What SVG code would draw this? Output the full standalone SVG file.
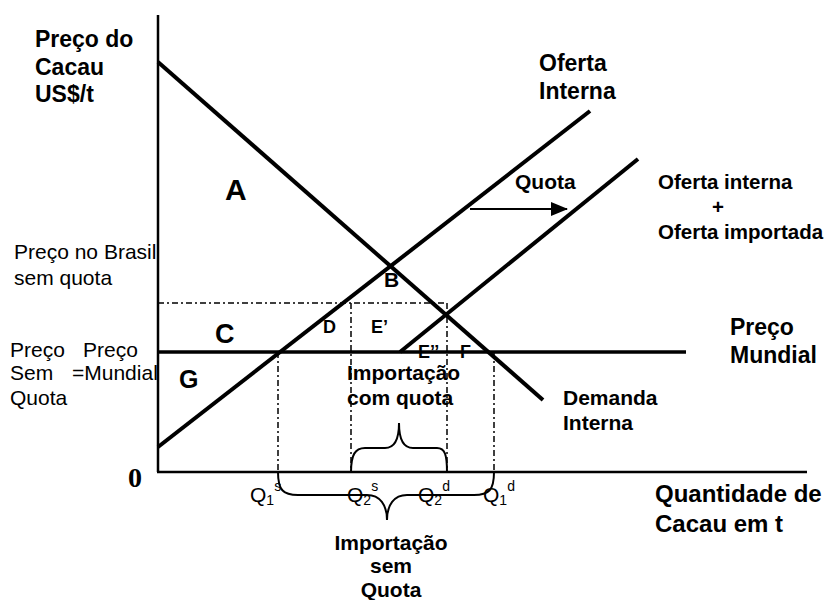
<svg xmlns="http://www.w3.org/2000/svg" width="832" height="600" viewBox="0 0 832 600">
<defs>
<style>
.b{font-family:"Liberation Sans",Arial,sans-serif;font-weight:bold;fill:#000}
.r{font-family:"Liberation Sans",Arial,sans-serif;fill:#000}
.curve{stroke:#000;stroke-width:4;fill:none;stroke-linecap:butt}
.axis{stroke:#000;stroke-width:2.5;fill:none}
.dd{stroke:#000;stroke-width:1.5;fill:none;stroke-dasharray:6 3 2 3}
.brace{stroke:#000;stroke-width:2;fill:none}
</style>
<marker id="ah" markerWidth="17" markerHeight="14" refX="16" refY="7" orient="auto" markerUnits="userSpaceOnUse" viewBox="0 0 17 14">
<path d="M0,0 L17,7 L0,14 z" fill="#000"/>
</marker>
<clipPath id="clipLeft"><rect x="0" y="0" width="157" height="600"/></clipPath>
</defs>
<rect width="832" height="600" fill="#fff"/>

<g id="connectors">
<line class="dd" x1="158" y1="303" x2="447" y2="303"/>
<line class="dd" x1="278" y1="352" x2="278" y2="472"/>
<line class="dd" x1="351" y1="303" x2="351" y2="472"/>
<line class="dd" x1="447" y1="303" x2="447" y2="472"/>
<line class="dd" x1="494" y1="352" x2="494" y2="472"/>
<line class="axis" x1="158" y1="15" x2="158" y2="472"/>
<line class="axis" x1="157" y1="472" x2="807" y2="472"/>
<line id="preco-mundial-line" class="curve" x1="158" y1="352" x2="686" y2="352" style="stroke-width:3.5"/>
<line id="demanda-line" class="curve" x1="158" y1="62" x2="543" y2="400"/>
<line id="oferta-line" class="curve" x1="158" y1="447" x2="590" y2="111"/>
<line id="oferta-quota-line" class="curve" x1="400" y1="352" x2="638" y2="159"/>
<line id="quota-arrow" x1="470" y1="209" x2="567" y2="209" stroke="#000" stroke-width="2" marker-end="url(#ah)"/>
<path id="brace-com-quota" class="brace" d="M351,472 C351,455 355,448 365,448 L385,448 C395,448 399,438 399,423 C399,438 403,448 413,448 L437,448 C445,448 447,455 447,472"/>
<path id="brace-sem-quota" class="brace" d="M278,472 C278,490 283,495 298,495 L367,495 C380,495 387,505 387,520 C387,505 394,495 407,495 L474,495 C489,495 494,490 494,472"/>
</g>

<g id="label-eixo-y">
<text class="b" font-size="23" x="35" y="47">Preço do</text>
<text class="b" font-size="23" x="35" y="75">Cacau</text>
<text class="b" font-size="23" x="35" y="102">US$/t</text>
</g>
<g id="label-oferta-interna">
<text class="b" font-size="23" x="539" y="71">Oferta</text>
<text class="b" font-size="23" x="539" y="99">Interna</text>
</g>
<g id="label-quota"><text class="b" font-size="21" x="515" y="189">Quota</text></g>
<g id="label-oferta-total">
<text class="b" font-size="20.5" x="658" y="189">Oferta interna</text>
<text class="b" font-size="20.5" x="712" y="214">+</text>
<text class="b" font-size="20.5" x="658" y="239">Oferta importada</text>
</g>
<g id="label-preco-mundial">
<text class="b" font-size="23" x="730" y="335">Preço</text>
<text class="b" font-size="23" x="730" y="363">Mundial</text>
</g>
<g id="label-demanda">
<text class="b" font-size="21" x="563" y="405">Demanda</text>
<text class="b" font-size="21" x="563" y="430">Interna</text>
</g>
<g id="label-eixo-x">
<text class="b" font-size="24" x="655" y="502">Quantidade de</text>
<text class="b" font-size="24" x="655" y="532">Cacau em t</text>
</g>
<g id="label-preco-brasil" clip-path="url(#clipLeft)">
<text class="r" font-size="21" x="14" y="259">Preço no Brasil</text>
<text class="r" font-size="21" x="14" y="285">sem quota</text>
</g>
<g id="label-preco-sem-quota">
<text class="r" font-size="21" x="10" y="357">Preço</text>
<text class="r" font-size="21" x="83" y="357">Preço</text>
<text class="r" font-size="21" x="10" y="380">Sem</text>
<text class="r" font-size="21" x="72" y="380">=Mundial</text>
<text class="r" font-size="21" x="10" y="405">Quota</text>
</g>
<g id="label-origem"><text font-family="'Liberation Serif','Times New Roman',serif" font-weight="bold" font-size="28" x="128" y="487">0</text></g>

<g id="areas">
<text class="b" font-size="30" x="225" y="200">A</text>
<text class="b" font-size="21" x="384" y="287">B</text>
<text class="b" font-size="27" x="215" y="343">C</text>
<text class="b" font-size="18" x="323" y="333">D</text>
<text class="b" font-size="18" x="371" y="333">E’</text>
<text class="b" font-size="18" x="418" y="358">E’’</text>
<text class="b" font-size="18" x="460" y="358">F</text>
<text class="b" font-size="25" x="179" y="388">G</text>
</g>

<g id="label-importacao-com-quota">
<text class="b" font-size="21" x="347" y="380">Importação</text>
<text class="b" font-size="21" x="347" y="405">com quota</text>
</g>
<g id="label-importacao-sem-quota">
<text class="b" font-size="21" x="391" y="550" text-anchor="middle">Importação</text>
<text class="b" font-size="21" x="391" y="573" text-anchor="middle">sem</text>
<text class="b" font-size="21" x="391" y="597" text-anchor="middle">Quota</text>
</g>

<g id="q-labels" class="r">
<text font-size="21" x="250" y="502">Q<tspan font-size="14" dy="3">1</tspan><tspan font-size="14" dy="-14">s</tspan></text>
<text font-size="21" x="347" y="502">Q<tspan font-size="14" dy="3">2</tspan><tspan font-size="14" dy="-14">s</tspan></text>
<text font-size="21" x="418" y="502">Q<tspan font-size="14" dy="3">2</tspan><tspan font-size="14" dy="-14">d</tspan></text>
<text font-size="21" x="483" y="502">Q<tspan font-size="14" dy="3">1</tspan><tspan font-size="14" dy="-14">d</tspan></text>
</g>
</svg>
